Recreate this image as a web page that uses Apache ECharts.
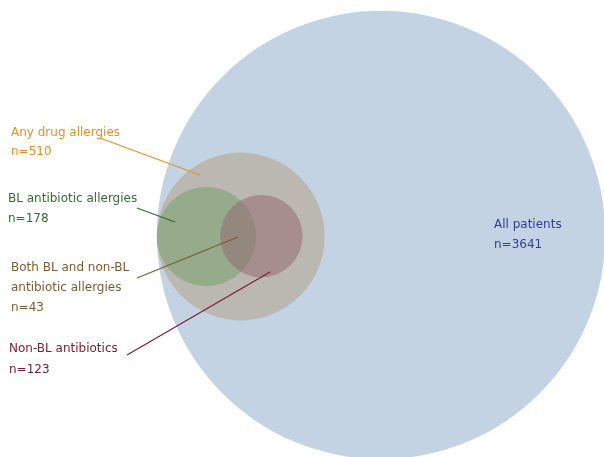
<!DOCTYPE html>
<html>
<head>
<meta charset="utf-8">
<style>
html,body{margin:0;padding:0;background:#fff;}
#chart{width:604px;height:457px;}
</style>
<script src="https://cdn.jsdelivr.net/npm/echarts@6/dist/echarts.min.js"></script>
</head>
<body>
<div id="chart"></div>
<script>
// ---- data ----
const setNames = ['All patients', 'Any drug allergies', 'BL antibiotic allergies', 'Non-BL antibiotics'];
const setCounts = [3641, 510, 178, 123];
const bothLabel = ['Both BL and non-BL', 'antibiotic allergies'];
const bothCount = 43;

// ---- layout (Euler diagram, area-proportional radii = sqrt(n)) ----
const radii = setCounts.map(n => Math.sqrt(n));
// gray and green circles internally tangent to the left edge of the big circle; red placed inside gray
const centersX = [0, -(radii[0] - radii[1]), -(radii[0] - radii[2]), -32.2];
const centersY = [0, -0.4, -0.4, -0.3];
const fills = ['rgba(195,211,228,1)', 'rgba(182,172,154,0.7)', 'rgba(114,156,104,0.5)', 'rgba(146,100,110,0.5)'];

const pxPerUnit = 3.715;
const W = 604, H = 457;
const cxPx = 381, cyPx = 235;
const xMin = -cxPx / pxPerUnit, xMax = (W - cxPx) / pxPerUnit;
const yMax = cyPx / pxPerUnit, yMin = -(H - cyPx) / pxPerUnit;

const chart = echarts.init(document.getElementById('chart'), null, {renderer: 'canvas'});
const FONT = '12px "DejaVu Sans", Verdana, sans-serif';

function txt(x, y, s, color) {
  return {type: 'text', x: x, y: y, z: 10,
    style: {text: s, fill: color, font: FONT, textVerticalAlign: 'middle', textAlign: 'left'}};
}
function line(x1, y1, x2, y2, color) {
  return {type: 'line', z: 9, shape: {x1, y1, x2, y2}, style: {stroke: color, lineWidth: 1.2}};
}

const cOrange = '#e0912c', cGreen = '#336b38', cBrown = '#7d5b2e', cRed = '#7a2030', cNavy = '#343c94';

chart.setOption({
  animation: false,
  grid: {left: 0, right: 0, top: 0, bottom: 0},
  xAxis: {type: 'value', min: xMin, max: xMax, show: false},
  yAxis: {type: 'value', min: yMin, max: yMax, show: false},
  series: [{
    type: 'custom',
    coordinateSystem: 'cartesian2d',
    data: setNames.map((name, i) => ({name, value: [centersX[i], centersY[i], radii[i], i]})),
    renderItem: function (params, api) {
      const c = api.coord([api.value(0), api.value(1)]);
      const r = api.size([api.value(2), 0])[0];
      const i = api.value(3);
      return {type: 'circle', shape: {cx: c[0], cy: c[1], r: r}, style: {fill: fills[i]}};
    },
    silent: true
  }],
  graphic: [
    txt(11, 133, setNames[1], cOrange), txt(11, 152, 'n=' + setCounts[1], cOrange),
    line(100, 138, 200, 175, cOrange),
    txt(8, 199, setNames[2], cGreen), txt(8, 219, 'n=' + setCounts[2], cGreen),
    line(137, 208, 175, 222, cGreen),
    txt(11, 268, bothLabel[0], cBrown), txt(11, 288, bothLabel[1], cBrown), txt(11, 308, 'n=' + bothCount, cBrown),
    line(137, 278, 238, 237, cBrown),
    txt(9, 349, setNames[3], cRed), txt(9, 370, 'n=' + setCounts[3], cRed),
    line(127, 355, 270, 272, cRed),
    txt(494, 225, setNames[0], cNavy), txt(494, 245, 'n=' + setCounts[0], cNavy)
  ]
});
</script>
</body>
</html>
